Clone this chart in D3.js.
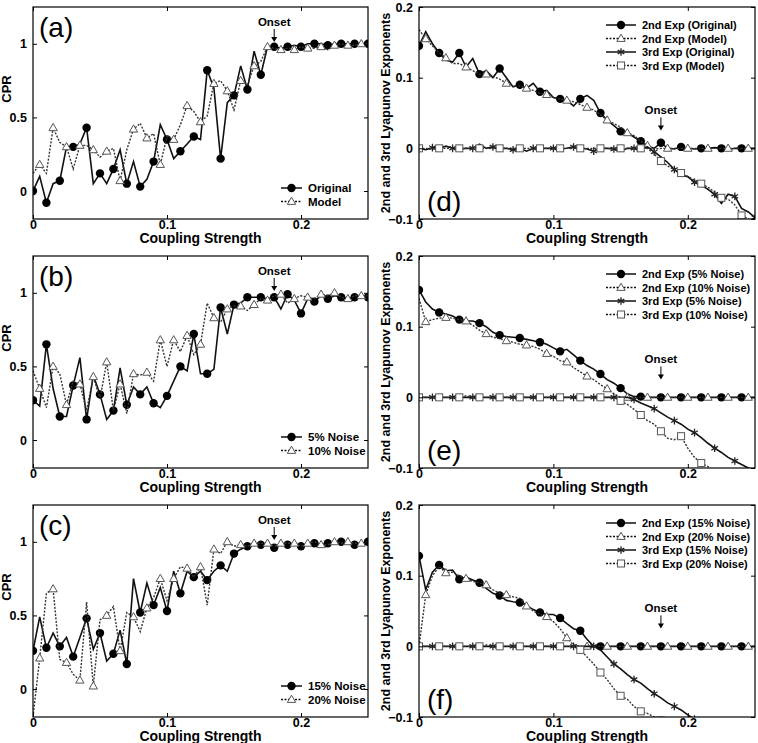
<!DOCTYPE html>
<html><head><meta charset="utf-8">
<script src="https://cdn.jsdelivr.net/npm/d3@7"></script>
<style>body{margin:0;background:#fff}text{font-family:"Liberation Sans",Arial,sans-serif}</style>
</head><body>
<svg id="c" width="758" height="743"></svg>
<script>
// coupling strength grid (step 0.005)
var coupling = d3.range(51).map(function(i){ return +(i*0.005).toFixed(3); });
var cprTicks = [0, 0.5, 1];
var lyTicks = [-0.1, 0, 0.1, 0.2];
var xTicks = [0, 0.1, 0.2];

// (a)
var cprOriginal = [0.0,0.1,-0.08,0.05,0.07,0.3,0.3,0.32,0.43,0.05,
 0.12,0.05,0.15,0.28,0.05,0.2,0.03,0.08,0.2,0.45,
 0.35,0.22,0.27,0.32,0.37,0.35,0.82,0.7,0.22,0.6,
 0.65,0.85,0.69,0.95,0.79,0.98,0.98,0.97,0.98,0.99,
 0.98,1.0,1.0,1.0,0.99,1.0,1.0,1.0,1.0,1.0,1.0];
var cprModel = [0.12,0.18,0.12,0.43,0.33,0.3,0.15,0.31,0.31,0.28,
 0.23,0.27,0.29,0.07,0.28,0.42,0.46,0.36,0.39,0.18,
 0.37,0.35,0.45,0.58,0.54,0.47,0.51,0.73,0.75,0.68,
 0.55,0.75,0.72,0.85,0.88,0.98,0.97,0.96,0.97,0.96,
 0.98,0.97,0.97,0.98,0.96,0.99,1.0,0.99,0.99,1.0,1.0];
// (b)
var cpr5 = [0.27,0.23,0.65,0.35,0.16,0.16,0.37,0.56,0.14,0.44,
 0.31,0.14,0.2,0.49,0.24,0.36,0.31,0.36,0.25,0.22,
 0.3,0.4,0.5,0.47,0.72,0.45,0.45,0.48,0.9,0.72,
 0.92,0.93,0.97,0.97,0.97,0.96,0.97,0.89,0.99,0.95,
 0.86,0.96,0.94,0.98,0.96,0.98,0.97,0.96,0.97,0.97,0.97];
var cpr10 = [0.47,0.35,0.22,0.5,0.45,0.24,0.4,0.38,0.2,0.43,
 0.28,0.53,0.2,0.38,0.18,0.45,0.44,0.46,0.4,0.68,
 0.5,0.68,0.6,0.71,0.58,0.65,0.93,0.83,0.8,0.89,
 0.91,0.91,0.88,0.92,0.96,0.95,0.98,0.99,0.93,0.96,
 0.98,0.97,0.96,0.99,0.98,1.0,0.97,0.96,0.98,0.98,0.98];
// (c)
var cpr15 = [0.26,0.49,0.28,0.38,0.29,0.35,0.22,0.35,0.48,0.27,
 0.38,0.19,0.24,0.4,0.17,0.75,0.52,0.72,0.57,0.69,
 0.53,0.8,0.65,0.8,0.76,0.8,0.74,0.8,0.84,0.8,
 0.92,0.95,0.97,0.98,0.98,0.99,0.96,0.98,0.98,0.98,
 0.97,0.99,0.99,0.98,0.99,0.99,1.0,0.99,0.98,0.99,1.0];
var cpr20 = [-0.19,0.21,0.65,0.68,0.2,0.18,0.1,0.06,0.59,0.02,
 0.47,0.5,0.56,0.26,0.52,0.49,0.39,0.55,0.62,0.75,
 0.6,0.75,0.83,0.82,0.76,0.83,0.57,0.95,0.92,1.0,
 0.97,0.98,0.97,0.99,0.99,0.99,0.97,0.99,0.99,0.99,
 0.97,0.99,1.0,0.98,0.98,1.0,0.99,1.0,0.99,0.99,1.0];

// (d)
var lyOrig2 = [0.145,0.165,0.148,0.135,0.125,0.122,0.135,0.115,0.127,0.105,
 0.11,0.1,0.113,0.1,0.087,0.09,0.085,0.092,0.08,0.082,
 0.072,0.07,0.068,0.06,0.07,0.075,0.068,0.05,0.04,0.032,
 0.024,0.022,0.016,0.01,0.003,0.0,0.008,0.0,-0.001,0.002,
 0.0,-0.001,0.0,0.0,0.001,0.0,-0.002,0.0,0.0,0.0,0.0];
var lyModel2 = [0.168,0.155,0.145,0.135,0.128,0.12,0.12,0.115,0.11,0.105,
 0.105,0.102,0.098,0.092,0.088,0.088,0.085,0.082,0.078,0.076,
 0.072,0.07,0.068,0.066,0.062,0.058,0.054,0.048,0.04,0.035,
 0.03,0.022,0.018,0.01,0.004,-0.001,0,0,0,0,
 0,0,0,0,0,0,0,0,0,0,0];
var lyOrig3 = [0.0,-0.002,0.001,0.0,0.003,0.0,-0.001,0.0,0.0,0.006,
 0.0,0.002,0.0,0.0,-0.002,0.0,-0.004,0.0,0.0,0.0,
 0.0,-0.001,0.0,0.002,0.0,-0.001,-0.004,0.0,0.0,-0.001,
 -0.004,0.0,0.0,0.0,0.002,-0.005,-0.012,-0.02,-0.03,-0.038,
 -0.04,-0.048,-0.052,-0.058,-0.065,-0.078,-0.065,-0.068,-0.085,-0.09,-0.098];
var lyModel3 = [0,0,-0.001,0,0,0,0,0,0,0,
 0,0,0,0,0,0,0,0,0,0,
 0,0,0,0,0,0,0,0,0,0,
 0,0,0,0,0,-0.008,-0.018,-0.025,-0.03,-0.035,
 -0.04,-0.045,-0.05,-0.055,-0.062,-0.07,-0.072,-0.08,-0.095,-0.1,-0.105];
// (e)
var ly5n2 = [0.152,0.135,0.125,0.12,0.118,0.115,0.11,0.108,0.108,0.105,
 0.1,0.092,0.088,0.086,0.085,0.084,0.082,0.08,0.078,0.075,
 0.07,0.065,0.068,0.06,0.052,0.045,0.04,0.033,0.025,0.02,
 0.013,0.005,0.001,0.001,0,0,0,0,0,0,
 0,0,0,0,0,0,0,0,0,0,0];
var ly10n2 = [0.14,0.107,0.11,0.112,0.113,0.112,0.11,0.108,0.102,0.095,
 0.09,0.085,0.083,0.08,0.078,0.075,0.074,0.072,0.068,0.062,
 0.058,0.052,0.05,0.042,0.036,0.03,0.025,0.018,0.012,0.005,
 0,0,0,0,0,0,0,0,0,0,
 0,0,0,0,0,0,0,0,0,0,0];
var ly5n3 = [0,0,0,0,0,0,0,0,0,0,
 0,0,0,0,0,0,0,0,0,0,
 0,0,0,0,0,0,0,0,0,0,
 0,0,-0.003,-0.008,-0.012,-0.016,-0.022,-0.028,-0.033,-0.038,
 -0.045,-0.05,-0.057,-0.065,-0.072,-0.078,-0.085,-0.09,-0.095,-0.1,-0.105];
var ly10n3 = [0,0.0,0,0,0,0,0,0.002,0,0,
 0,0,0,0,0,0,0,0,0,0,
 0,0,0,0,0,0,0,0,0,0,
 -0.005,-0.01,-0.017,-0.025,-0.033,-0.038,-0.048,-0.058,-0.06,-0.055,
 -0.072,-0.085,-0.093,-0.098,-0.105,-0.11,-0.115,-0.12,-0.125,-0.13,-0.135];
// (f)
var ly15n2 = [0.128,0.08,0.105,0.115,0.107,0.108,0.095,0.098,0.094,0.09,
 0.082,0.075,0.072,0.065,0.063,0.062,0.058,0.052,0.048,0.045,
 0.045,0.04,0.032,0.025,0.022,0.01,0,0,0,0,
 0,0,0,0,0,0,0,0,0,0,
 0,0,0,0,0,0,0,0,0,0,0];
var ly20n2 = [0.0,0.073,0.1,0.113,0.104,0.105,0.1,0.096,0.092,0.09,
 0.087,0.08,0.075,0.073,0.07,0.068,0.057,0.05,0.045,0.042,
 0.035,0.025,0.012,0.002,0,0,0,0,0,0,
 0,0,0,0,0,0,0,0,0,0,
 0,0,0,0,0,0,0,0,0,0,0];
var ly15n3 = [0,0,0,0,0,0,0,0,0,0,
 0,0,0,0,0,0,0,0,0,0,
 0,0,0,0,0,0,0,-0.005,-0.015,-0.025,
 -0.032,-0.04,-0.047,-0.052,-0.06,-0.067,-0.073,-0.08,-0.085,-0.09,
 -0.097,-0.103,-0.11,-0.115,-0.12,-0.125,-0.13,-0.135,-0.14,-0.145,-0.15];
var ly20n3 = [0,0,0,0,0,0,0,0,0,0,
 0.002,0,0,0,0,0,0,0,0,0,
 0,0,0,0,-0.005,-0.015,-0.025,-0.037,-0.047,-0.06,
 -0.07,-0.075,-0.085,-0.092,-0.095,-0.1,-0.105,-0.11,-0.115,-0.12,
 -0.125,-0.13,-0.135,-0.14,-0.145,-0.15,-0.155,-0.16,-0.165,-0.17,-0.175];

var panels = [
 {id:"a", col:0, row:0, series:[{name:"Original", v:cprOriginal, dash:false, mk:"circle"},{name:"Model", v:cprModel, dash:true, mk:"triangle"}]},
 {id:"b", col:0, row:1, series:[{name:"5% Noise", v:cpr5, dash:false, mk:"circle"},{name:"10% Noise", v:cpr10, dash:true, mk:"triangle"}]},
 {id:"c", col:0, row:2, series:[{name:"15% Noise", v:cpr15, dash:false, mk:"circle"},{name:"20% Noise", v:cpr20, dash:true, mk:"triangle"}]},
 {id:"d", col:1, row:0, series:[{name:"2nd Exp (Original)", v:lyOrig2, dash:false, mk:"circle"},{name:"2nd Exp (Model)", v:lyModel2, dash:true, mk:"triangle"},{name:"3rd Exp (Original)", v:lyOrig3, dash:false, mk:"star"},{name:"3rd Exp (Model)", v:lyModel3, dash:true, mk:"square"}]},
 {id:"e", col:1, row:1, series:[{name:"2nd Exp (5% Noise)", v:ly5n2, dash:false, mk:"circle"},{name:"2nd Exp (10% Noise)", v:ly10n2, dash:true, mk:"triangle"},{name:"3rd Exp (5% Noise)", v:ly5n3, dash:false, mk:"star"},{name:"3rd Exp (10% Noise)", v:ly10n3, dash:true, mk:"square"}]},
 {id:"f", col:1, row:2, series:[{name:"2nd Exp (15% Noise)", v:ly15n2, dash:false, mk:"circle"},{name:"2nd Exp (20% Noise)", v:ly20n2, dash:true, mk:"triangle"},{name:"3rd Exp (15% Noise)", v:ly15n3, dash:false, mk:"star"},{name:"3rd Exp (20% Noise)", v:ly20n3, dash:true, mk:"square"}]}
];

var svg = d3.select("#c");

function marker(g, type, x, y){
  if (type == "circle") g.append("circle").attr("cx", x).attr("cy", y).attr("r", 4.2).attr("fill", "#000");
  else if (type == "triangle") g.append("path").attr("d", d3.symbol(d3.symbolTriangle, 30)()).attr("transform", "translate(" + x + "," + (y+0.5) + ")").attr("fill", "#fff").attr("stroke", "#555").attr("stroke-width", 1);
  else if (type == "square") g.append("rect").attr("x", x-3.5).attr("y", y-3.5).attr("width", 7).attr("height", 7).attr("fill", "#fff").attr("stroke", "#555").attr("stroke-width", 1);
  else g.append("path").attr("d", d3.symbol(d3.symbolAsterisk || d3.symbolTimes, 40)()).attr("transform", "translate(" + x + "," + y + ")").attr("fill", "none").attr("stroke", "#222").attr("stroke-width", 1.3);
}

panels.forEach(function(p, pi){
  var left = p.col ? 419 : 33, right = p.col ? 755 : 368;
  var top = 7 + 249*p.row, bottom = top + 212;
  var lyap = p.col == 1;
  var x = d3.scaleLinear().domain([0, 0.25]).range([left, right]);
  var y = lyap ? d3.scaleLinear().domain([-0.1, 0.2]).range([bottom, top])
               : d3.scaleLinear().domain([-0.19, 1.25]).range([bottom, top]);
  var g = svg.append("g");

  var clipId = "clip" + p.id;
  svg.append("clipPath").attr("id", clipId).append("rect").attr("x", left).attr("y", top).attr("width", right-left).attr("height", bottom-top);
  var plot = g.append("g").attr("clip-path", "url(#" + clipId + ")");

  var line = d3.line().x(function(d, i){ return x(coupling[i]); }).y(function(d){ return y(d); });
  var every = lyap ? 3 : 2;
  p.series.forEach(function(s, si){
    plot.append("path").datum(s.v).attr("d", line).attr("fill", "none")
      .attr("stroke", s.dash ? "#333" : "#111").attr("stroke-width", s.dash ? 1.4 : 1.6)
      .attr("stroke-dasharray", s.dash ? "2,1.5" : null);
    var off = lyap ? si % 3 : si;
    s.v.forEach(function(v, i){
      if ((i - off) % every == 0 && i >= off) marker(plot, s.mk, x(coupling[i]), y(v));
    });
  });

  // frame and ticks
  g.append("rect").attr("x", left).attr("y", top).attr("width", right-left).attr("height", bottom-top).attr("fill", "none").attr("stroke", "#000").attr("stroke-width", 1.2);
  var yt = lyap ? lyTicks : cprTicks;
  g.append("g").attr("transform", "translate(" + left + ",0)").call(d3.axisLeft(y).tickValues(yt).tickSize(-4).tickPadding(6).tickFormat(function(d){ return d == 0 ? "0" : d3.format("")(d); }))
    .call(function(a){ a.select(".domain").remove(); a.selectAll("text").attr("font-size", 12.5).attr("font-weight", "bold"); });
  g.append("g").attr("transform", "translate(" + right + ",0)").call(d3.axisRight(y).tickValues(yt).tickSize(-4).tickFormat(""))
    .call(function(a){ a.select(".domain").remove(); });
  g.append("g").attr("transform", "translate(0," + bottom + ")").call(d3.axisBottom(x).tickValues(xTicks).tickSize(-4).tickPadding(1).tickFormat(d3.format("")))
    .call(function(a){ a.select(".domain").remove(); a.selectAll("text").attr("font-size", 12.5).attr("font-weight", "bold"); });
  g.append("g").attr("transform", "translate(0," + top + ")").call(d3.axisTop(x).tickValues(xTicks).tickSize(-4).tickFormat(""))
    .call(function(a){ a.select(".domain").remove(); });

  g.append("text").attr("x", (left+right)/2).attr("y", bottom + 24).attr("text-anchor", "middle").attr("font-size", 14).attr("font-weight", "bold").text("Coupling Strength");
  var yl = lyap ? "2nd and 3rd Lyapunov Exponents" : "CPR";
  g.append("text").attr("transform", "translate(" + (lyap ? 390 : 11) + "," + (lyap ? (top+bottom)/2 : top + 82) + ") rotate(-90)").attr("text-anchor", "middle").attr("font-size", lyap ? 12.5 : 13).attr("font-weight", "bold").text(yl);

  // panel letter
  if (lyap) g.append("text").attr("x", left + 8).attr("y", bottom - 8).attr("font-size", 28).text("(" + p.id + ")");
  else g.append("text").attr("x", left + 6).attr("y", top + 30).attr("font-size", 28).text("(" + p.id + ")");

  // onset marker
  var ox = x(0.18);
  var oy = lyap ? y(0.048) : top + 19;
  g.append("text").attr("x", ox).attr("y", oy).attr("text-anchor", "middle").attr("font-size", 11.5).attr("font-weight", "bold").text("Onset");
  g.append("line").attr("x1", ox).attr("x2", ox).attr("y1", oy + 3).attr("y2", oy + 13).attr("stroke", "#000").attr("stroke-width", 1);
  g.append("path").attr("d", "M" + (ox-3) + "," + (oy+11) + "L" + (ox+3) + "," + (oy+11) + "L" + ox + "," + (oy+16) + "Z").attr("fill", "#000");

  // legend
  var lx0 = lyap ? 606 : 281, lx1 = lyap ? 636 : 302, ly0 = lyap ? top + 18 : bottom - 31, dy = lyap ? 13.5 : 13.5;
  p.series.forEach(function(s, si){
    var yy = ly0 + si*dy;
    g.append("line").attr("x1", lx0).attr("x2", lx1).attr("y1", yy).attr("y2", yy).attr("stroke", "#111").attr("stroke-width", 1.5).attr("stroke-dasharray", s.dash ? "2,1.5" : null);
    marker(g, s.mk, (lx0+lx1)/2, yy);
    g.append("text").attr("x", lx1 + 6).attr("y", yy + 4).attr("font-size", lyap ? 11 : 11.5).attr("font-weight", "bold").text(s.name);
  });
});
</script>
</body></html>
